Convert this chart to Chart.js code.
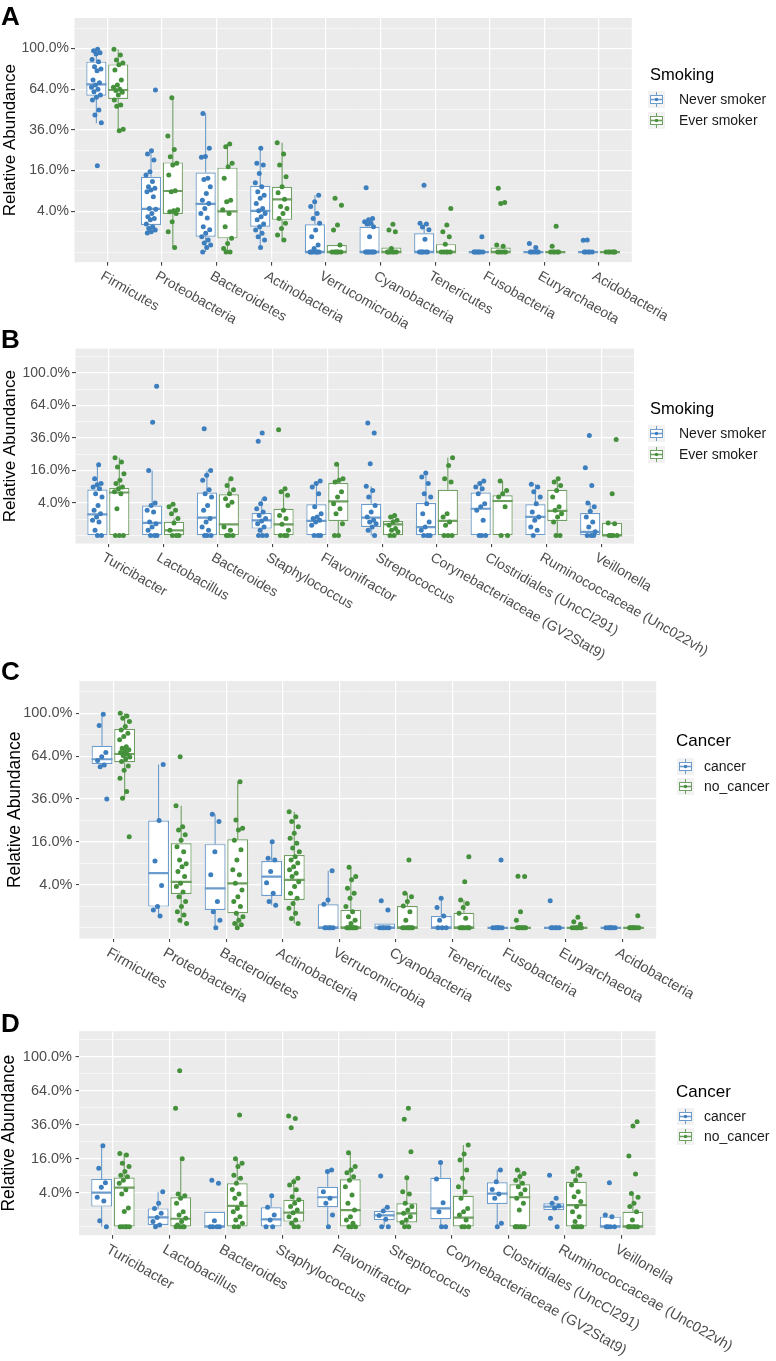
<!DOCTYPE html>
<html><head><meta charset="utf-8">
<script src="https://cdn.jsdelivr.net/npm/chart.js"></script>
<style>
html,body{margin:0;padding:0;background:#fff;}
body{width:776px;height:1361px;position:relative;overflow:hidden;font-family:"Liberation Sans",Arial,sans-serif;}
canvas{position:absolute;left:0;top:0;}
.t{position:absolute;white-space:nowrap;line-height:1;}
svg.k{position:absolute;}
</style></head><body>
<canvas id="cA" width="776" height="1361"></canvas>
<canvas id="cB" width="776" height="1361"></canvas>
<canvas id="cC" width="776" height="1361"></canvas>
<canvas id="cD" width="776" height="1361"></canvas>
<script>
// ---------- categories & tick labels ----------
const phylumCategories = ['Firmicutes','Proteobacteria','Bacteroidetes','Actinobacteria','Verrucomicrobia','Cyanobacteria','Tenericutes','Fusobacteria','Euryarchaeota','Acidobacteria'];
const genusCategories = ['Turicibacter','Lactobacillus','Bacteroides','Staphylococcus','Flavonifractor','Streptococcus','Corynebacteriaceae (GV2Stat9)','Clostridiales (UncCl291)','Ruminococcaceae (Unc022vh)','Veillonella'];
const tickPercents = [4, 16, 36, 64, 100];
const tickLabels = ['4.0%', '16.0%', '36.0%', '64.0%', '100.0%'];
const minorGridPercents = [0, 1, 9, 25, 49, 81, 121];

// ---------- box stats: [lower whisker, Q1, median, Q3, upper whisker] (% relative abundance) ----------
const aNeverBoxes = [[40,59,67.9,87.5,98.6],[0.9,1.76,4.5,13.7,24.8],[0,0.57,5.6,15.3,46.4],[0.05,1.55,4.1,10.6,26],[0,0,0,1.85,7.8],[0,0,0,1.55,2.7],[0,0,0,0.84,2.0],[0,0,0,0,0],[0,0,0,0,0],[0,0,0,0,0]];
const aEverBoxes = [[35.5,56.5,63.4,85,99.2],[0.05,3.5,9.0,19.4,57.5],[0,0.45,4.0,17.2,28.2],[0.25,2.5,6.7,10.3,28.9],[0,0,0,0.12,0.12],[0,0,0,0.05,0.05],[0,0,0,0.15,0.15],[0,0,0,0.05,0.05],[0,0,0,0,0],[0,0,0,0,0]];
const bNeverBoxes = [[0,0,1.7,8.0,19],[0,0,0.6,3.4,16],[0,0,1.2,7.0,16],[0,0.18,0.87,1.9,5.1],[0,0,0.8,3.7,11.2],[0,0.27,1.2,3.8,9.2],[0,0,0.27,4.0,14.8],[0,0,2.7,7.0,11.2],[0,0,1.3,3.7,9.9],[0,0,0.05,1.9,4.0]];
const bEverBoxes = [[0,0,7.0,8.5,22.9],[0,0,0.1,0.7,1.1],[0,0,0.47,6.4,12.2],[0,0,0.47,2.7,8.3],[0,0.8,4.4,10.4,19.2],[0,0,0.47,0.8,1.5],[0,0,0.8,7.9,22.9],[0,0,4.5,6.1,11.2],[0,0.8,2.3,7.9,12.2],[0,0,0,0.6,0.7]];
const cCancerBoxes = [[56.4,58.3,61.7,71.9,99],[0.3,0.98,6.5,25,58],[0,0.69,3.4,15.2,28],[1.1,2.2,5.7,9.7,16.1],[0,0,0,1.2,7.1],[0,0,0,0.04,0.04],[0,0,0,0.3,1.9],[0,0,0,0,0],[0,0,0,0,0],[0,0,0,0,0]];
const cNoCancerBoxes = [[36.5,59.6,65.6,85.9,100],[0.04,2.5,4.6,15.5,32.4],[0,0.46,4.3,17,46.4],[0.04,1.7,5.0,11.5,29.3],[0,0,0,0.7,8.0],[0,0,0,1.04,2.6],[0,0,0,0.5,1.7],[0,0,0,0,0],[0,0,0,0,0],[0,0,0,0,0]];
const dCancerBoxes = [[0,1.4,4.0,7.9,22.7],[0,0.01,0.3,1.16,4.2],[0,0,0,0.78,0.78],[0,0,0.19,1.3,3.3],[0,1.3,3.0,5.5,11.1],[0,0.15,0.44,0.85,1.3],[0,0.19,1.16,8.3,14.3],[0,1.8,3.8,6.8,11.1],[0.96,0.96,1.4,1.9,1.9],[0,0,0,0.35,0.47]];
const dNoCancerBoxes = [[0,0,5.3,8.4,18.6],[0,0,0.22,3.0,16],[0,0,1.5,6.5,16],[0,0.09,0.68,2.5,8.1],[0,0,0.96,7.8,18.9],[0,0.06,0.62,1.9,8.3],[0,0,0.28,3.3,23.1],[0,0,3.0,6.2,11.1],[0,0,1.6,7.0,11.8],[0,0,0,0.78,3.8]];

// ---------- individual samples (% relative abundance) ----------
const aNeverPoints = [
 [99.2,97.9,96,94.7,89.6,87.5,83,81,79.4,71.4,69.2,67.3,65.5,64,62.1,59.5,57.8,55.8,48.7,45.3,40.4,18],
 [63.4,24.8,23.2,20.4,15.6,14.3,12,10.3,9.8,9.3,8.8,7.4,4.6,4.4,3.6,3.0,2.7,2.5,1.9,1.5,1.35,1.17,1.0,0.87],
 [46.4,26,22,21.7,13.1,12.7,10.3,8.3,6.5,5.7,4.6,3.6,2.8,1.55,1.2,0.84,0.57,0.35,0.2,0.12,0.05,0],
 [26,19,18.3,14.9,11.6,10.3,8.8,7.8,7.0,5.7,4.6,4.1,3.6,3.0,2.5,1.9,1.55,1.17,0.84,0.57,0.35,0.05],
 [7.8,6.1,5.0,3.6,2.7,2.0,1.17,0.57,0.12,0.03,0,0,0,0,0,0,0],
 [10,2.7,2.5,2.2,2.0,1.9,1.55,0.57,0,0,0,0,0,0,0,0],
 [10.8,2.0,1.9,1.5,1.2,0.4,0,0,0,0,0,0],
 [0.57,0,0,0,0,0,0,0],
 [0.18,0.05,0,0,0,0,0],
 [0.35,0.33,0,0,0,0,0]];
const aEverPoints = [
 [99.2,93.7,89,86.2,84.8,80,71.4,67.3,65.5,64,63,61.6,59.5,55.8,52.2,51.4,36.4,35.5],
 [57.5,32.5,25.4,21.9,19,18.3,14.3,9.1,8.8,4.3,4.1,3.9,3.6,2.2,1.0,0.05],
 [28.2,26.8,19,17.6,13.1,6.5,6.1,4.3,3.6,1.55,0.45,0.18,0.03,0,0],
 [28.9,23.2,18.3,13.7,10.3,8.5,6.7,5.0,4.6,3.6,2.7,2.0,1.35,0.7,0.35],
 [7.0,5.3,1.76,1.17,0.12,0,0,0,0,0,0],
 [1.85,1.17,1.0,0.03,0,0,0,0,0,0],
 [4.6,1.76,1.0,0.57,0.15,0,0,0,0,0],
 [9.8,5.9,5.7,0.12,0.08,0,0,0,0,0],
 [1.6,0.08,0,0,0,0,0],
 [0,0,0,0,0,0]];
const bNeverPoints = [
 [19,12.2,10.2,9.7,8.9,8.3,6.6,5.6,3.4,2.4,1.8,1.3,0.87,0.7,0.1,0,0],
 [84.3,48.5,16,4,3.4,2.4,2.1,0.7,0.53,0.27,0.1,0,0,0],
 [43.2,16,13.7,11.5,7.9,6.6,5.6,3.4,2.4,1.08,0.7,0.27,0.1,0,0,0],
 [39.8,33.6,5.1,3.8,2.7,2.1,1.5,1.1,0.8,0.53,0.27,0.1,0,0,0],
 [11.2,10.2,8.9,6.6,3.1,1.8,1.3,1.1,0.87,0.7,0.4,0,0,0],
 [47.9,39.8,19.5,9.2,7.7,5.6,3.4,2.1,1.3,0.87,0.7,0.53,0.27,0.1,0],
 [14.8,12.9,10.2,6.6,5.6,3.8,1.8,0.7,0.27,0.1,0,0,0],
 [11.2,10.2,8.9,8.3,6.6,3.8,3.1,2.4,0.87,0,0,0],
 [9.9,8.9,7.2,5.6,3.8,2.1,1.3,0.87,0.27,0.1,0],
 [37.9,17.4,9.5,4.0,3.1,2.2,1.3,0.7,0.27,0.05,0,0,0]];
const bEverPoints = [
 [22.9,20.5,17.8,14.4,11.5,10.2,8.9,8.3,7.2,6.6,2.7,0,0,0],
 [3.7,3.1,2.4,1.8,1.1,0.6,0.1,0,0,0],
 [12.2,9.5,7.9,6.6,5.1,4.2,3.4,0.27,0.1,0,0,0],
 [42.4,8.3,7.2,6.1,2.4,1.5,1.1,0.47,0.1,0,0,0],
 [19.2,12.2,11.5,10.8,7.2,5.6,3.8,2.7,1.8,0.53,0,0],
 [1.5,1.3,0.87,0.7,0.4,0.18,0.1,0.05,0,0],
 [22.9,18.6,12.2,10.8,1.8,1.3,0.7,0.4,0,0,0],
 [11.2,7.7,6.6,5.6,3.1,0,0],
 [12.2,10.8,9.5,7.7,5.6,3.1,2.4,1.8,1.3,0.7,0,0],
 [34.8,6.6,0.6,0.53,0,0,0,0]];
const cCancerPoints = [
 [99,88.9,66.7,63.6,60.7,57.6,56.4,36],
 [58,25,9.7,3.9,0.98,0.7,0.3],
 [28,24.5,12.6,6.1,1.5,0.57,0.13,0],
 [16.1,10.5,10.0,6.9,4.4,2.6,1.5,1.1],
 [7.1,1.7,1.2,0,0,0,0,0],
 [1.6,0.7,0,0,0,0,0],
 [1.9,0.9,0.3,0.13,0,0,0],
 [10,0,0,0,0,0,0],
 [1.6,0,0,0,0,0],
 [0,0,0,0,0,0]];
const cNoCancerPoints = [
 [100,97.5,95.4,92.4,87.9,85,82.1,79.4,76.8,71.2,70,68.9,67.8,66.7,65.4,64.4,63.4,61.9,60.1,56.9,53.9,48.5,40.3,36.5,18],
 [63.6,32.4,22.2,20.8,18.8,16.7,14.3,12.6,10.0,8.9,8.1,6.9,5.7,4.3,3.7,2.8,2.1,1.5,0.98,0.57,0.36,0.13,0.04],
 [46.4,25.2,21.5,20.8,16.7,13.2,10.0,7.3,6.1,4.3,3.1,2.1,1.5,0.98,0.46,0.27,0.13,0.04,0.02,0],
 [29.3,26.8,24.5,22.2,19.4,17.4,15.5,13.8,12.6,11.0,10.0,9.1,8.1,7.3,6.5,5.7,4.6,3.7,2.6,1.9,1.3,0.83,0.46,0.19,0.04],
 [8.0,5.7,5.0,3.4,2.6,1.9,0.98,0.57,0.27,0.13,0.04,0,0,0,0,0,0,0,0],
 [10,2.6,2.1,1.5,1.04,0.57,0.13,0,0,0,0,0,0,0],
 [11,4.6,1.7,1.3,0.9,0.46,0.2,0,0,0,0,0,0,0],
 [5.8,5.7,0.57,0.13,0,0,0,0,0,0,0],
 [0.24,0.08,0.03,0,0,0,0,0,0],
 [0.32,0,0,0,0,0,0,0]];
const dCancerPoints = [
 [22.7,11.8,6.7,5.4,3.0,2.3,0.12,0],
 [4.2,1.9,1.16,0.62,0.3,0.09,0.01,0],
 [7.5,6.5,0.12,0,0,0,0],
 [3.3,1.3,0.47,0.15,0,0],
 [11.1,10.5,4.2,2.8,1.9,0.47,0],
 [8.9,1.3,0.85,0.44,0.19,0,0],
 [14.3,7.9,2.0,0.78,0,0],
 [11.1,7.0,4.8,3.7,2.8,0.04,0],
 [9.2,2.8,1.9,1.5,1.2,0.24,0],
 [6.7,0.47,0.35,0,0,0,0]];
const dNoCancerPoints = [
 [18.6,17.8,13.9,12.5,10.5,9.2,8.6,7.5,6.5,4.7,3.7,1.2,0.8,0,0,0,0,0],
 [84.2,48.5,16,3.7,3.3,2.8,1.9,0.78,0.47,0.24,0.09,0.01,0,0,0,0],
 [43.1,16,13.9,12.5,9.2,8.1,6.5,4.8,3.7,2.8,1.9,1.16,0.78,0.35,0.15,0.04,0,0],
 [42.4,40.6,33.9,8.1,7.0,6.0,4.7,3.1,2.5,1.9,1.4,0.96,0.68,0.35,0.15,0.04,0,0],
 [18.9,12.5,11.1,10.1,8.6,7.5,5.5,3.5,1.9,0.96,0.35,0.15,0.04,0,0,0],
 [48.5,39.9,19.5,8.3,4.2,3.7,1.9,1.4,0.96,0.62,0.35,0.15,0.06,0,0],
 [23.1,18.3,15.4,11.1,8.1,5.5,4.2,2.8,1.16,0.78,0.47,0.15,0,0,0],
 [11.1,9.8,8.7,7.5,6.5,5.5,4.7,3.7,2.8,1.9,0.96,0,0,0,0,0,0],
 [11.8,10.5,9.2,7.5,6.0,4.2,3.1,2.2,1.4,0.78,0.35,0.09,0,0,0,0,0],
 [38.1,35.1,17.3,9.6,3.8,3.0,1.9,1.4,0.78,0.15,0,0,0,0,0,0]];

// ---------- styling ----------
const FONT = '"Liberation Sans", Arial, Helvetica, sans-serif';
Chart.defaults.font.family = FONT;
const pointColors = ['#3D7EBF', '#45903B'];
const boxColors = ['#6C9CCB', '#6FA062'];
const GROUP_OFF = [-0.2, 0.2];
const BOX_HALF = 0.184;
const root = v => Math.sqrt(v / 100);
const majorRoots = tickPercents.map(root);
const gridRoots = majorRoots.concat(minorGridPercents.map(root)).sort((a, b) => a - b);
const isMajor = v => majorRoots.some(m => Math.abs(m - v) < 1e-6);
const labelFor = v => { const k = majorRoots.findIndex(m => Math.abs(m - v) < 1e-6); return k >= 0 ? tickLabels[k] : ''; };
const jitter = (i, g, k) => ((((k + 1) * 0.6180339887 + i * 0.311 + g * 0.473) % 1) - 0.5) * 0.19;

function buildDatasets(boxes, points) {
  const ds = [];
  [0, 1].forEach(g => {
    const off = GROUP_OFF[g];
    ds.push({
      type: 'scatter', order: 0, showLine: false,
      data: points[g].flatMap((arr, i) => arr.map((v, k) => ({x: i + off + jitter(i, g, k), y: root(v)}))),
      pointRadius: 2.5, pointBackgroundColor: pointColors[g], pointBorderWidth: 0, backgroundColor: pointColors[g]
    });
    ds.push({
      type: 'line', order: 1, spanGaps: false, fill: false, pointRadius: 0,
      borderColor: boxColors[g], borderWidth: 2.2, borderCapStyle: 'butt',
      data: boxes[g].flatMap((b, i) => [{x: i + off - BOX_HALF, y: root(b[2])}, {x: i + off + BOX_HALF, y: root(b[2])}, {x: i + off, y: null}])
    });
    ds.push({
      type: 'line', order: 2, spanGaps: false, fill: false, pointRadius: 0,
      borderColor: boxColors[g], borderWidth: 1.1, borderCapStyle: 'butt',
      data: boxes[g].flatMap((b, i) => [{x: i + off, y: root(b[3])}, {x: i + off, y: root(b[4])}, {x: i + off, y: null},
                                         {x: i + off, y: root(b[1])}, {x: i + off, y: root(b[0])}, {x: i + off, y: null}])
    });
    ds.push({
      type: 'bar', order: 3, grouped: true,
      data: boxes[g].map((b, i) => ({x: i, y: [root(b[1]), root(b[3])]})),
      backgroundColor: '#FFFFFF', borderColor: boxColors[g], borderWidth: 1.2, borderSkipped: false,
      categoryPercentage: 0.8, barPercentage: 0.92
    });
  });
  return ds;
}

const panels = [
  {id: 'cA', cats: phylumCategories, boxes: [aNeverBoxes, aEverBoxes], points: [aNeverPoints, aEverPoints], L: 74.5, R: 631.8, T: 18, B: 262.2, tick: 14, title: 17, titleX: 10.5, xl: 14, tickPad: 2},
  {id: 'cB', cats: genusCategories, boxes: [bNeverBoxes, bEverBoxes], points: [bNeverPoints, bEverPoints], L: 75.5, R: 634, T: 348.6, B: 543.6, tick: 14, title: 17, titleX: 10.5, xl: 14, tickPad: 2},
  {id: 'cC', cats: phylumCategories, boxes: [cCancerBoxes, cNoCancerBoxes], points: [cCancerPoints, cNoCancerPoints], L: 79.4, R: 656.2, T: 681, B: 938.6, tick: 14.5, title: 17.5, titleX: 15, xl: 14.5, tickPad: 3.5},
  {id: 'cD', cats: genusCategories, boxes: [dCancerBoxes, dNoCancerBoxes], points: [dCancerPoints, dNoCancerPoints], L: 79, R: 655.5, T: 1031.2, B: 1235.2, tick: 14.5, title: 17.5, titleX: 9.5, xl: 14.5, tickPad: 3.5}
];

panels.forEach(p => {
  const bgPlugin = {
    id: 'panelBg',
    beforeDraw(chart) {
      const {ctx, chartArea: a} = chart;
      ctx.save(); ctx.fillStyle = '#EBEBEB';
      ctx.fillRect(a.left, a.top, a.right - a.left, a.bottom - a.top);
      ctx.restore();
    }
  };
  const xLabelPlugin = {
    id: 'rotatedXLabels',
    afterDraw(chart) {
      const {ctx, chartArea: a} = chart;
      const xs = chart.scales.x;
      ctx.save();
      ctx.fillStyle = '#4D4D4D';
      ctx.font = p.xl + 'px ' + FONT;
      ctx.textAlign = 'left'; ctx.textBaseline = 'top';
      p.cats.forEach((lab, i) => {
        ctx.save();
        ctx.translate(xs.getPixelForValue(i) - 2, a.bottom + 7);
        ctx.rotate(30 * Math.PI / 180);
        ctx.fillText(lab, 0, 0);
        ctx.restore();
      });
      ctx.restore();
    }
  };
  new Chart(document.getElementById(p.id), {
    type: 'scatter',
    data: {datasets: buildDatasets(p.boxes, p.points)},
    plugins: [bgPlugin, xLabelPlugin],
    options: {
      responsive: false, animation: false, events: [], devicePixelRatio: 1,
      layout: {padding: {left: 0, right: 776 - p.R, top: p.T, bottom: 0}},
      plugins: {legend: {display: false}, tooltip: {enabled: false}},
      scales: {
        x: {
          type: 'linear', min: -0.6, max: 9.6, offset: false,
          afterBuildTicks: s => { s.ticks = p.cats.map((c, i) => ({value: i})); },
          afterFit: s => { s.height = 1361 - p.B; },
          ticks: {display: false, autoSkip: false},
          grid: {color: '#FFFFFF', lineWidth: 1.2, offset: false, drawTicks: true, tickLength: 3.5, tickColor: '#333333', tickWidth: 1},
          border: {display: false}
        },
        y: {
          type: 'linear', min: -0.05, max: 1.15,
          afterBuildTicks: s => { s.ticks = gridRoots.map(v => ({value: v})); },
          afterFit: s => { s.width = p.L; },
          ticks: {autoSkip: false, padding: p.tickPad, color: '#4D4D4D', font: {size: p.tick, family: FONT}, callback: v => labelFor(v)},
          grid: {
            color: '#FFFFFF',
            lineWidth: c => (c.tick && isMajor(c.tick.value)) ? 1.2 : 0.6,
            tickLength: 3.5,
            tickColor: c => (c.tick && isMajor(c.tick.value)) ? '#333333' : 'rgba(0,0,0,0)',
            tickWidth: 1
          },
          border: {display: false},
          title: {display: true, text: 'Relative Abundance', color: '#000000', font: {size: p.title, family: FONT, lineHeight: 1}, padding: {top: p.titleX - p.title / 2, bottom: 0}}
        }
      }
    }
  });
});

// ---------- legends & panel letters (HTML text) ----------
function addText(txt, left, baseline, size, weight, color) {
  const d = document.createElement('div');
  d.className = 't';
  d.textContent = txt;
  d.style.left = left + 'px';
  d.style.top = (baseline - 0.8465 * size) + 'px';
  d.style.fontSize = size + 'px';
  d.style.fontWeight = weight || 'normal';
  d.style.color = color || '#000';
  document.body.appendChild(d);
}
function addKey(left, centerY, g) {
  const ns = 'http://www.w3.org/2000/svg';
  const s = document.createElementNS(ns, 'svg');
  const color = boxColors[g];
  s.setAttribute('class', 'k'); s.setAttribute('width', '17'); s.setAttribute('height', '17');
  s.style.left = left + 'px'; s.style.top = (centerY - 8.5) + 'px';
  s.innerHTML = '<rect width="17" height="17" fill="#F2F2F2"/>' +
    '<line x1="8.5" y1="1" x2="8.5" y2="4.5" stroke="' + color + '" stroke-width="1"/>' +
    '<rect x="2.5" y="4.5" width="12" height="8" fill="#fff" stroke="' + color + '" stroke-width="1"/>' +
    '<line x1="2.5" y1="8.5" x2="14.5" y2="8.5" stroke="' + color + '" stroke-width="1.6"/>' +
    '<line x1="8.5" y1="12.5" x2="8.5" y2="16" stroke="' + color + '" stroke-width="1"/>' +
    '<circle cx="8.5" cy="8.5" r="1.7" fill="' + pointColors[g] + '"/>';
  document.body.appendChild(s);
}
const legends = [
  {title: 'Smoking', labels: ['Never smoker', 'Ever smoker'], tx: 650, kx: 648, lx: 679, tb: 80, eb: [104, 125], ts: 16.5},
  {title: 'Smoking', labels: ['Never smoker', 'Ever smoker'], tx: 650, kx: 648, lx: 679, tb: 414, eb: [438, 459], ts: 16.5},
  {title: 'Cancer', labels: ['cancer', 'no_cancer'], tx: 676, kx: 677, lx: 704, tb: 746, eb: [771, 791], ts: 17},
  {title: 'Cancer', labels: ['cancer', 'no_cancer'], tx: 676, kx: 677, lx: 704, tb: 1097, eb: [1121, 1141], ts: 17}
];
legends.forEach(l => {
  addText(l.title, l.tx, l.tb, l.ts);
  l.labels.forEach((lab, g) => {
    addKey(l.kx, l.eb[g] - 5, g);
    addText(lab, l.lx, l.eb[g], 14, 'normal', '#1A1A1A');
  });
});
[['A', 25], ['B', 348.3], ['C', 680], ['D', 1031.7]].forEach(([t, b]) => addText(t, 1, b, 26, 'bold', '#000'));
</script>
</body></html>
